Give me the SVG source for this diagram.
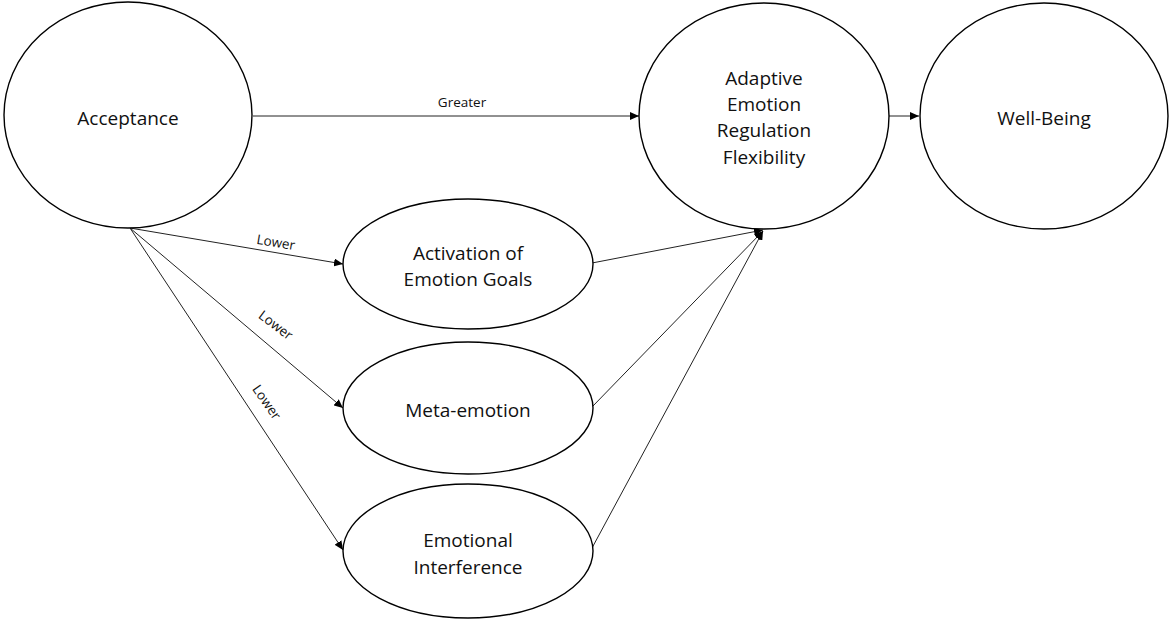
<svg xmlns="http://www.w3.org/2000/svg" width="1169" height="621" viewBox="0 0 1169 621">
<style>
.node{fill:#fff;stroke:#000;stroke-width:1.4}
.lbl{font-family:"Open Sans","Liberation Sans",sans-serif;font-size:19px;fill:#111;text-anchor:middle;dominant-baseline:central}
.edge{stroke:#222;stroke-width:1;fill:none;marker-end:url(#arr)}
.elbl{font-family:"Open Sans","Liberation Sans",sans-serif;font-size:13.5px;fill:#111;text-anchor:middle;dominant-baseline:central}
</style>
<defs>
<marker id="arr" markerUnits="userSpaceOnUse" markerWidth="10" markerHeight="8" refX="9" refY="4" orient="auto">
<path d="M0,0 L9,4 L0,8 Z" fill="#000"/>
</marker>
</defs>
<rect width="1169" height="621" fill="#fff"/>
<g id="connectors">
<line class="edge" x1="253" y1="116" x2="639" y2="116"/>
<line class="edge" x1="889" y1="116" x2="919" y2="116"/>
<line class="edge" x1="130" y1="228" x2="343" y2="264"/>
<line class="edge" x1="130" y1="228" x2="343" y2="408"/>
<line class="edge" x1="130" y1="228" x2="343" y2="550"/>
<line class="edge" x1="592" y1="263" x2="763" y2="230"/>
<line class="edge" x1="592" y1="407" x2="763" y2="231"/>
<line class="edge" x1="592" y1="548" x2="763" y2="231"/>
<text class="elbl" x="462" y="102">Greater</text>
<text class="elbl" x="276" y="242" transform="rotate(9.5 276 242)">Lower</text>
<text class="elbl" x="276" y="325" transform="rotate(37 276 325)">Lower</text>
<text class="elbl" x="267" y="402" transform="rotate(55 267 402)">Lower</text>
</g>
<g id="acceptance">
<ellipse class="node" cx="128" cy="115" rx="124" ry="113"/>
<text class="lbl" x="128" y="118">Acceptance</text>
</g>
<g id="aerf">
<ellipse class="node" cx="764" cy="116" rx="125" ry="113"/>
<text class="lbl" x="764" y="78">Adaptive</text>
<text class="lbl" x="764" y="104">Emotion</text>
<text class="lbl" x="764" y="130">Regulation</text>
<text class="lbl" x="764" y="157">Flexibility</text>
</g>
<g id="wellbeing">
<ellipse class="node" cx="1044" cy="116" rx="124" ry="113"/>
<text class="lbl" x="1044" y="118">Well-Being</text>
</g>
<g id="activation">
<ellipse class="node" cx="468" cy="264" rx="125" ry="65"/>
<text class="lbl" x="468" y="253">Activation of</text>
<text class="lbl" x="468" y="279">Emotion Goals</text>
</g>
<g id="metaemotion">
<ellipse class="node" cx="468" cy="408" rx="125" ry="66"/>
<text class="lbl" x="468" y="410">Meta-emotion</text>
</g>
<g id="interference">
<ellipse class="node" cx="468" cy="551" rx="125" ry="67"/>
<text class="lbl" x="468" y="540">Emotional</text>
<text class="lbl" x="468" y="567">Interference</text>
</g>
</svg>
